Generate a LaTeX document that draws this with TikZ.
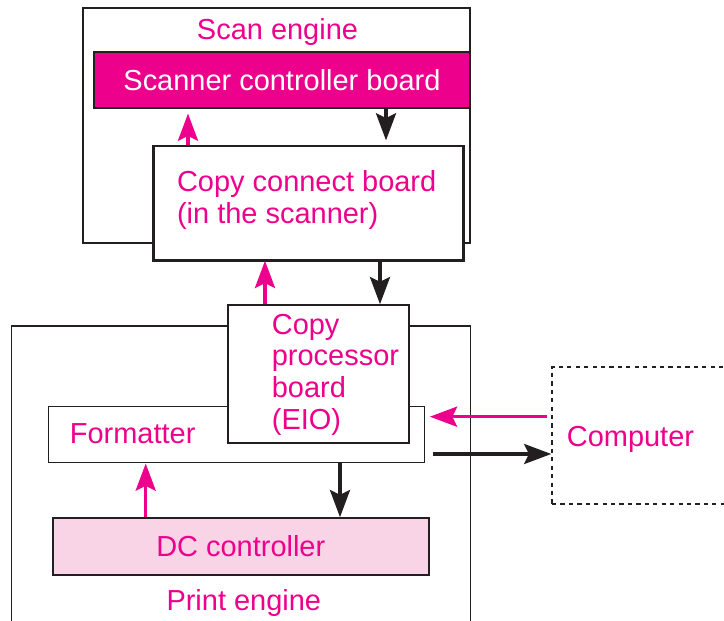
\documentclass[tikz,border=0pt]{standalone}
\usepackage{fontspec}
\setmainfont{Liberation Sans}
\usepackage{tikz}
\usetikzlibrary{
  arrows.meta,
  positioning
}
\definecolor{hpmagenta}{HTML}{EC008C}
\definecolor{hprosa}{HTML}{F8D4E6}
\definecolor{hppreto}{HTML}{231F20}

\begin{document}
\begin{tikzpicture}[
    caixa/.style={
    draw=hppreto,
    line width=1.1pt,
    fill=white,
    inner sep=0pt,
    minimum height=1.4cm
    },
    rotulo/.style={
    text=hpmagenta,
    font=\fontsize{20.6}{22.5}\selectfont,
    inner sep=0pt
    },
    seta/.style={draw=hppreto,line width=2.5pt,-{Stealth[length=0.68cm,width=0.5cm,inset=0.12cm]}},
    setam/.style={seta,draw=hpmagenta,fill=hpmagenta}
    ]
    
    \useasboundingbox (0,0) rectangle (18.1,15.5);
    \clip (0,0) rectangle (18.1,15.5);
    
    % scanner side
    \node[caixa,minimum width=9.675cm,minimum height=5.875cm]
    (scan) at (6.9125,12.3625) {};
    \node[rotulo,anchor=base] (scanlbl) at (6.9375,14.5175)
    {Scan engine};
    
    \node[caixa,fill=hpmagenta,minimum width=9.4cm,rotulo,text=white]
    (scb) at (7.05,13.5) {Scanner controller board};
    
    \node[caixa,minimum width=7.725cm,minimum height=2.85cm]
    (ccb) at (7.7125,10.425) {};
    \draw[hppreto,line width=2.2pt] (ccb.north west) |- (ccb.south east) -- (ccb.north east);
    \node[rotulo,align=left,anchor=west] (ccbtxt) at (4.42,10.5)
    {Copy connect board\\(in the scanner)};
    
    % printer side
    \node[caixa,minimum width=11.475cm,minimum height=8.35cm]
    (print) at (6.03,3.175) {};
    \node[rotulo,anchor=base] (printlbl) at (6.095,0.2325)
    {Print engine};
    
    \node[caixa,minimum width=9.4cm]
    (fmt) at (5.9175,4.6325) {};
    \node[rotulo,anchor=base west] (fmttxt) at (1.74,4.4)
    {Formatter};
    
    \node[caixa,minimum width=4.525cm,minimum height=3.45cm]
    (cpb) at (7.9625,6.15) {};
    \node[rotulo,align=left,anchor=west] (cpbtxt) at (6.79,6.1375)
    {Copy\\processor\\board\\(EIO)};
    
    \node[caixa,fill=hprosa,minimum width=9.4cm,minimum height=1.425cm,rotulo]
    (dc) at (6.02,1.8375) {DC controller};
    
    \node[caixa,dashed,line width=1pt,minimum width=5.7cm,minimum height=3.425cm]
    (pc) at (16.65,4.6125) {};
    \node[rotulo,anchor=base west] (pctxt) at (14.165,4.3325)
    {Computer};
    
    % connectors
    \draw[setam,shorten >=0.12cm](ccb.north -| 4.7,0)--(scb.south -| 4.7,0);
    \draw[seta,shorten >=0.12cm](scb.south -| 9.65,0)--(ccb.north -| 9.65,0);
    \draw[setam](cpb.north -| 6.625,0)--(ccb.south -| 6.625,0);
    \draw[seta](ccb.south -| 9.5,0)--(cpb.north -| 9.5,0);
    \draw[setam,shorten <=0.1cm,shorten >=0.11cm](pc.west |- 0,5.0825)--(fmt.east |- 0,5.0825);
    \draw[seta,shorten <=0.18cm](fmt.east |- 0,4.15)--(pc.west |- 0,4.15);
    \draw[setam](dc.north -| 3.6425,0)--(fmt.south -| 3.6425,0);
    \draw[seta](fmt.south -| 8.5,0)--(dc.north -| 8.5,0);
    
\end{tikzpicture}
\end{document}
